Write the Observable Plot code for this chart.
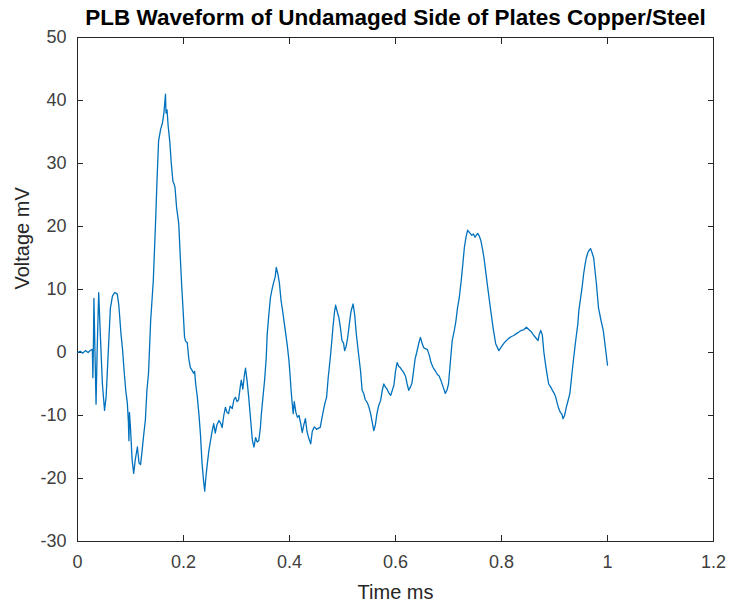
<!DOCTYPE html>
<html>
<head>
<meta charset="utf-8">
<script src="https://cdn.jsdelivr.net/npm/d3@7"></script>
<script src="https://cdn.jsdelivr.net/npm/@observablehq/plot@0.6"></script>
<style>
  html, body { margin: 0; padding: 0; background: #fff; }
  #chart svg { display: block; }
</style>
</head>
<body>
<div id="chart"></div>
<script>
// PLB (pencil lead break) waveform, undamaged side of the copper/steel plates
const title = "PLB Waveform of Undamaged Side of Plates Copper/Steel";
const xLabel = "Time ms";
const yLabel = "Voltage mV";
const xTicks = [0, 0.2, 0.4, 0.6, 0.8, 1, 1.2];
const yTicks = [-30, -20, -10, 0, 10, 20, 30, 40, 50];

// time in ms
const time = [
  0, 0.005, 0.01, 0.015, 0.02, 0.025, 0.028, 0.029, 0.030, 0.031, 0.033, 0.035, 0.037, 0.040, 0.043, 0.047,
  0.051, 0.054, 0.058, 0.062, 0.066, 0.070, 0.075, 0.078, 0.082, 0.085, 0.088, 0.091, 0.094, 0.096, 0.097, 0.098,
  0.100, 0.103, 0.106, 0.109, 0.113, 0.116, 0.119, 0.122, 0.125, 0.128, 0.131, 0.134, 0.138, 0.143, 0.147, 0.150,
  0.153, 0.157, 0.160, 0.163, 0.166, 0.167, 0.169, 0.171, 0.174, 0.177, 0.180, 0.182, 0.184, 0.187, 0.191, 0.194,
  0.197, 0.199, 0.202, 0.204, 0.207, 0.210, 0.213, 0.216, 0.219, 0.221, 0.223, 0.226, 0.229, 0.232, 0.235, 0.238,
  0.240, 0.242, 0.245, 0.248, 0.251, 0.254, 0.257, 0.260, 0.263, 0.267, 0.270, 0.273, 0.276, 0.279, 0.282, 0.285,
  0.288, 0.292, 0.295, 0.298, 0.301, 0.304, 0.307, 0.309, 0.312, 0.315, 0.317, 0.320, 0.323, 0.326, 0.330, 0.333,
  0.336, 0.339, 0.342, 0.345, 0.347, 0.350, 0.353, 0.356, 0.358, 0.361, 0.364, 0.367, 0.370, 0.373, 0.375, 0.378,
  0.381, 0.384, 0.388, 0.392, 0.396, 0.399, 0.401, 0.403, 0.405, 0.407, 0.409, 0.412, 0.415, 0.418, 0.421, 0.424,
  0.427, 0.430, 0.433, 0.436, 0.440, 0.443, 0.447, 0.451, 0.455, 0.458, 0.461, 0.464, 0.467, 0.470, 0.473, 0.477,
  0.480, 0.482, 0.485, 0.487, 0.490, 0.493, 0.496, 0.499, 0.502, 0.504, 0.507, 0.510, 0.513, 0.516, 0.520, 0.523,
  0.526, 0.530, 0.534, 0.537, 0.540, 0.543, 0.547, 0.550, 0.553, 0.556, 0.559, 0.562, 0.565, 0.568, 0.572, 0.575,
  0.578, 0.581, 0.584, 0.588, 0.591, 0.594, 0.597, 0.600, 0.603, 0.606, 0.609, 0.612, 0.615, 0.619, 0.622, 0.625,
  0.628, 0.631, 0.634, 0.637, 0.640, 0.644, 0.647, 0.650, 0.653, 0.656, 0.660, 0.664, 0.667, 0.671, 0.675, 0.679,
  0.682, 0.686, 0.690, 0.694, 0.697, 0.700, 0.703, 0.707, 0.711, 0.714, 0.717, 0.720, 0.724, 0.727, 0.730, 0.733,
  0.736, 0.740, 0.744, 0.747, 0.750, 0.755, 0.758, 0.761, 0.764, 0.767, 0.770, 0.774, 0.779, 0.784, 0.789, 0.795,
  0.799, 0.804, 0.808, 0.813, 0.818, 0.823, 0.828, 0.832, 0.837, 0.842, 0.847, 0.852, 0.857, 0.861, 0.865, 0.869,
  0.871, 0.874, 0.877, 0.880, 0.883, 0.886, 0.889, 0.893, 0.896, 0.899, 0.902, 0.905, 0.908, 0.911, 0.914, 0.916,
  0.919, 0.922, 0.926, 0.929, 0.933, 0.936, 0.940, 0.944, 0.946, 0.949, 0.952, 0.955, 0.958, 0.960, 0.963, 0.966,
  0.968, 0.971, 0.974, 0.977, 0.979, 0.983, 0.988, 0.992, 0.996, 1.000
];

// voltage in mV
const voltage = [
  0, 0.2, -0.1, 0.3, 0, 0.4, 0.5, -4, 1, 8.6, 0, -8.2, 0, 9.5, 3, -5,
  -9.2, -7, 0, 7, 9, 9.5, 9.3, 7.5, 3, 0.5, -3, -6, -8, -11, -14, -9.5,
  -12, -17, -19.2, -17, -15, -17.5, -17.8, -15.5, -13, -10.8, -6, -3.3, 5, 11.4, 20, 27.3,
  33.6, 35.5, 36.3, 38, 41, 38, 38.5, 36, 33.6, 30, 27.2, 26.8, 26.2, 23, 20.5, 15,
  10, 7.1, 2.4, 1.8, 1.6, -1, -2.4, -2.8, -3.3, -3, -5, -7, -9.7, -13, -17.6, -20.5,
  -22, -20, -17.6, -15.5, -14, -12.5, -11.3, -12.8, -11.5, -10.8, -11.2, -11.9, -10, -8.7, -9.5, -9.7,
  -8.5, -8.9, -7.5, -7.1, -7.8, -7.5, -5.5, -4.4, -5.8, -3.5, -2.5, -4.5, -7.1, -10, -14, -15,
  -13.5, -14.2, -14, -12, -9.7, -7, -4.4, -1, 3, 6, 8.7, 10, 11.1, 12, 13.5, 12.5,
  11, 8.3, 6, 3.5, 1, -1.3, -3.5, -6, -8, -9.7, -7.8, -9.5, -10.3, -10, -11.2, -12.7,
  -11.5, -10.5, -12.5, -13.5, -14.5, -12.5, -11.8, -12.2, -12, -11.9, -10.5, -9.2, -8, -7.1, -4, -0.8,
  2, 4, 6.5, 7.5, 6.5, 5.6, 4, 1.9, 1.5, 0.3, 1, 2.5, 4.6, 6.5, 7.7, 6,
  3, 0, -2.9, -6, -6.5, -7.5, -8, -8.7, -9.7, -11, -12.4, -11.5, -9.7, -8.5, -7.6, -6,
  -5, -5.5, -5.8, -6.5, -6.8, -6, -5.2, -3, -1.6, -2.2, -2.4, -2.8, -3.1, -3.8, -5, -6,
  -5.5, -4.9, -3, -1, 0, 1.5, 2.4, 1.5, 0.8, 0.6, 0.5, -0.5, -1.6, -2.4, -2.9, -3.5,
  -3.7, -4.5, -5.5, -6.5, -6, -5, -2, 1.9, 3.5, 5, 7.1, 8.5, 11.4, 14, 16.7, 18.3,
  19.4, 19, 18.6, 18.8, 18.3, 18.9, 18.5, 17.8, 16.5, 15, 13, 10.3, 7.1, 4, 1.4, 0.3,
  0.8, 1.4, 1.8, 2.2, 2.5, 2.7, 3, 3.2, 3.5, 3.6, 4, 3.6, 3.2, 2.7, 2.3, 1.9,
  2.8, 3.5, 2.8, 0, -1.8, -3.5, -5, -5.5, -6, -6.4, -7, -8, -8.9, -9.5, -9.8, -10.5,
  -10, -8.8, -7.5, -6.5, -3.3, -1, 1.9, 4.5, 6.7, 8.5, 10.3, 12.5, 14.1, 15, 15.9, 16.3,
  16.5, 15.8, 15, 12.5, 11, 7.1, 5, 3.5, 0.8, -2
];

const samples = time.map((t, i) => ({t, v: voltage[i]}));

const ink = "#262626";
const fontFamily = "'Liberation Sans', Arial, Helvetica, sans-serif";
const plain = d => String(d); // hyphen-minus, no trailing zeros

const chart = Plot.plot({
  width: 730,
  height: 606,
  marginLeft: 77,
  marginRight: 17,
  marginTop: 37,
  marginBottom: 65,
  style: {fontFamily, fontSize: "18px", color: ink, background: "#fff"},
  x: {domain: [0, 1.2]},
  y: {domain: [-30, 50]},
  marks: [
    Plot.frame({stroke: ink, strokeWidth: 1}),
    // bottom and left axes with inward ticks
    Plot.axisX(xTicks, {anchor: "bottom", tickSize: -6, tickPadding: 20, tickFormat: plain, fontSize: 18, fill: "#404040", label: null}),
    Plot.axisY(yTicks, {anchor: "left", tickSize: -6, tickPadding: 17, tickFormat: plain, fontSize: 18, fill: "#404040", label: null}),
    // mirrored ticks on the top and right edges of the box
    Plot.axisX(xTicks, {anchor: "top", tickSize: -6, tickFormat: () => "", label: null}),
    Plot.axisY(yTicks, {anchor: "right", tickSize: -6, tickFormat: () => "", label: null}),
    Plot.line(samples, {x: "t", y: "v", stroke: "#0072BD", strokeWidth: 1.3}),
    // axis titles and chart title
    Plot.text([xLabel], {frameAnchor: "bottom", lineAnchor: "middle", dy: 51, fontSize: 20, fill: ink}),
    Plot.text([yLabel], {frameAnchor: "left", lineAnchor: "middle", dx: -55, rotate: -90, fontSize: 20, fill: ink}),
    Plot.text([title], {frameAnchor: "top", lineAnchor: "middle", dy: -20, fontWeight: "bold", fontSize: 22.5, fill: "#000"})
  ]
});

document.getElementById("chart").appendChild(chart);
</script>
</body>
</html>
